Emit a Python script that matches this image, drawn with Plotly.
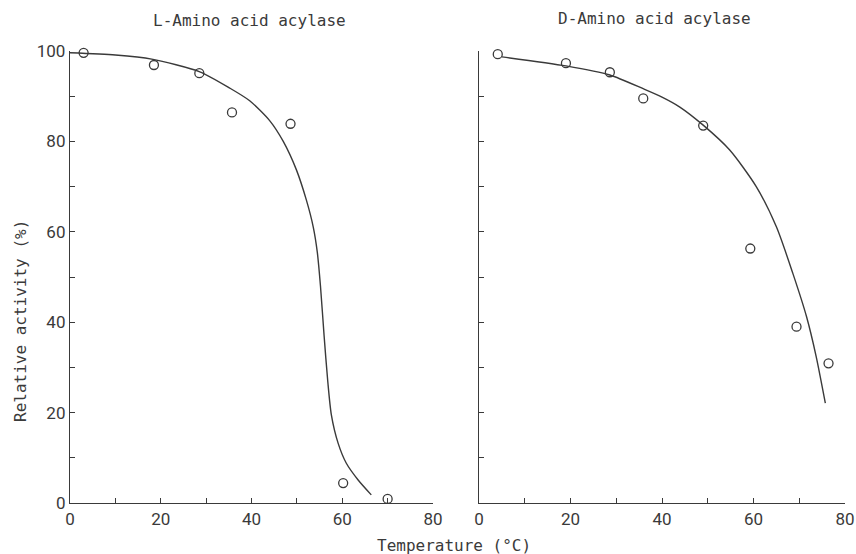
import plotly.graph_objects as go

# Measured data points (open circles)
l_temp = [3, 18.5, 28.5, 35.7, 48.6, 60.2, 70.0]
l_act = [99.6, 96.9, 95.1, 86.4, 83.9, 4.4, 0.9]
d_temp = [4.1, 19.0, 28.6, 35.9, 49.0, 59.3, 69.4, 76.4]
d_act = [99.3, 97.3, 95.3, 89.5, 83.5, 56.3, 39.0, 30.9]

# Hand-drawn fitted curves
l_curve_x = [0, 10, 18, 28.6, 35.2, 39.6, 44.0, 47.0, 49.9, 52.1, 53.6, 54.5, 55.2, 56.0, 56.8, 57.6, 59.1, 60.9, 63.5, 66.4]
l_curve_y = [99.6, 99.1, 98.2, 95.4, 91.8, 89.0, 84.6, 80.0, 73.7, 67.0, 61.1, 55.5, 48.0, 37.0, 27.0, 19.5, 13.2, 8.8, 5.1, 1.8]
d_curve_x = [5.0, 19.0, 28.6, 36.0, 40.0, 43.9, 49.0, 54.8, 60.6, 65.0, 68.6, 71.6, 73.7, 75.7]
d_curve_y = [98.7, 96.7, 94.7, 91.6, 89.8, 87.6, 83.6, 78.1, 70.0, 61.1, 50.8, 41.2, 32.4, 22.1]

titles = ["L-Amino acid acylase", "D-Amino acid acylase"]
x_title = "Temperature (°C)"
y_title = "Relative activity (%)"

x_ticks = [0, 10, 20, 30, 40, 50, 60, 70, 80]
x_ticktext = ["0", "", "20", "", "40", "", "60", "", "80"]
y_ticks = [0, 10, 20, 30, 40, 50, 60, 70, 80, 90, 100]
y_ticktext = ["0", "", "20", "", "40", "", "60", "", "80", "", "100"]

INK = "#3a3a3a"
W, H = 856, 554

fig = go.Figure()
line_style = dict(color=INK, width=1.4, shape="spline", smoothing=0.7)
mk = dict(symbol="circle-open", size=9, color=INK, line=dict(width=1.3, color=INK))

fig.add_trace(go.Scatter(x=l_curve_x, y=l_curve_y, mode="lines", line=line_style,
                         xaxis="x", yaxis="y", showlegend=False, hoverinfo="skip"))
fig.add_trace(go.Scatter(x=l_temp, y=l_act, mode="markers", marker=mk, cliponaxis=False,
                         xaxis="x", yaxis="y", showlegend=False))
fig.add_trace(go.Scatter(x=d_curve_x, y=d_curve_y, mode="lines", line=line_style,
                         xaxis="x2", yaxis="y2", showlegend=False, hoverinfo="skip"))
fig.add_trace(go.Scatter(x=d_temp, y=d_act, mode="markers", marker=mk, cliponaxis=False,
                         xaxis="x2", yaxis="y2", showlegend=False))

tick_font = dict(family="Roboto", size=17, color=INK)
mono = dict(family="DejaVu Sans Mono", size=16, color=INK)

def xaxis(domain, anchor):
    return dict(domain=domain, anchor=anchor, range=[0, 80], showgrid=False, zeroline=False,
                showline=True, linecolor=INK, linewidth=1.3, ticks="inside", ticklen=5,
                tickwidth=1.3, tickcolor=INK, tickvals=x_ticks, ticktext=x_ticktext,
                tickfont=tick_font, fixedrange=True, automargin=False)

def yaxis(domain, anchor, labels):
    return dict(domain=domain, anchor=anchor, range=[0, 100], showgrid=False, zeroline=False,
                showline=True, linecolor=INK, linewidth=1.3, ticks="inside", ticklen=5,
                tickwidth=1.3, tickcolor=INK, tickvals=y_ticks,
                ticktext=y_ticktext if labels else [""] * len(y_ticks),
                tickfont=tick_font, fixedrange=True, automargin=False)

ydom = [(H - 503) / H, (H - 51) / H]
fig.update_layout(
    width=W, height=H, margin=dict(l=0, r=0, t=0, b=0),
    paper_bgcolor="white", plot_bgcolor="white",
    xaxis=xaxis([70 / W, 433 / W], "y"),
    yaxis=yaxis(ydom, "x", True),
    xaxis2=xaxis([479 / W, 845 / W], "y2"),
    yaxis2=yaxis(ydom, "x2", False),
    annotations=[
        dict(text=titles[0], x=249 / W, y=1 - 21 / H, xref="paper", yref="paper",
             showarrow=False, font=mono, xanchor="center", yanchor="middle"),
        dict(text=titles[1], x=654 / W, y=1 - 18 / H, xref="paper", yref="paper",
             showarrow=False, font=mono, xanchor="center", yanchor="middle"),
        dict(text=x_title, x=454 / W, y=1 - 545 / H, xref="paper", yref="paper",
             showarrow=False, font=mono, xanchor="center", yanchor="middle"),
        dict(text=y_title, x=20 / W, y=1 - 321 / H, xref="paper", yref="paper",
             showarrow=False, font=mono, xanchor="center", yanchor="middle", textangle=-90),
    ],
)

fig.write_html("out.html", config={"displayModeBar": False},
               post_script="document.body.style.margin='0';document.body.style.overflow='hidden';")
